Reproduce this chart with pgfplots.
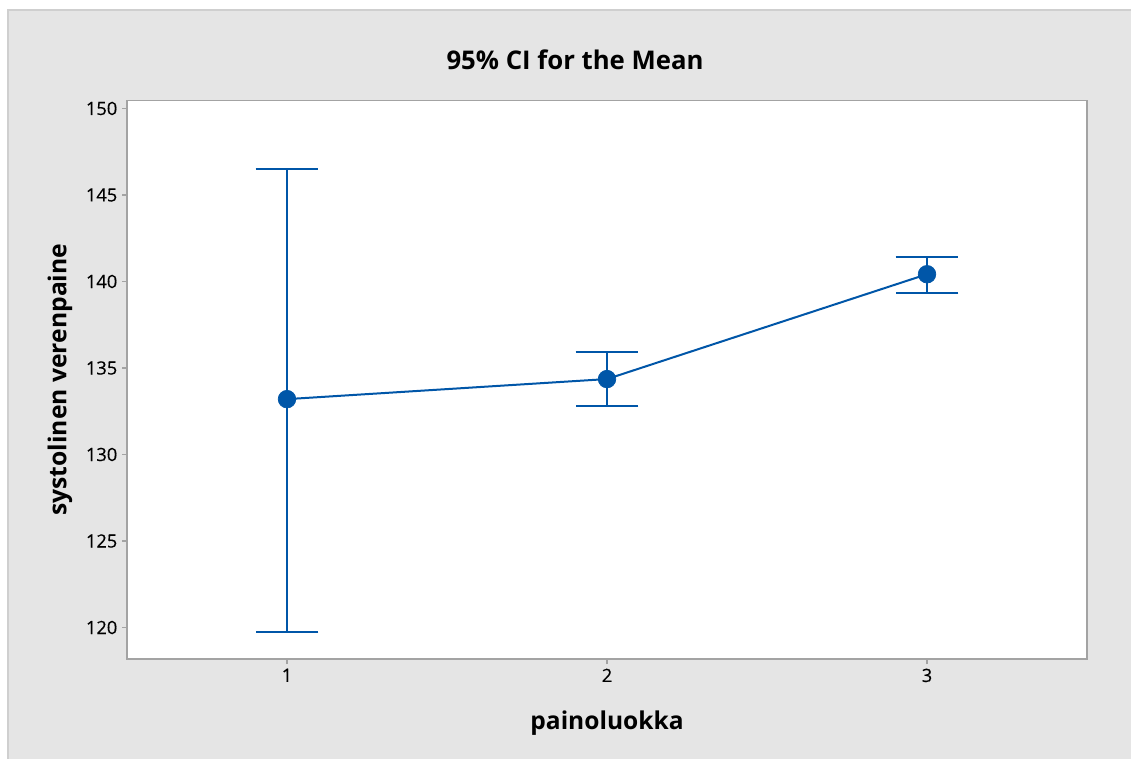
\documentclass[border=0pt]{standalone}
\usepackage{fontspec}
\setmainfont{Open Sans}
\newfontfamily\ticksfont[FakeBold=0.4]{Open Sans}
\usepackage{pgfplots}
\usepackage{pgfplotstable}
\pgfplotsset{compat=1.18}

\definecolor{mtblue}{HTML}{0056A8}
\definecolor{panel}{HTML}{E5E5E5}
\definecolor{frameline}{HTML}{CFCFCF}
\definecolor{axisgray}{HTML}{A3A3A3}

% mean and 95% confidence interval half-widths per weight class
\pgfplotstableread{
x  mean    ep     em
1  133.20  13.30  13.45
2  134.36   1.54   1.54
3  140.42   0.98   1.08
}\cidata

\begin{document}
\begin{tikzpicture}[x=0.75pt,y=0.75pt]
\useasboundingbox (0,0) rectangle (1131,758);
\fill[white] (0,0) rectangle (1131,758);
\filldraw[fill=panel, draw=frameline, line width=1.2pt] (8,-5) rectangle (1136,748);
\begin{axis}[
  at={(95.25pt,74.25pt)}, anchor=south west,
  scale only axis, width=720pt, height=419pt,
  xmin=0.5, xmax=3.5, ymin=118.18, ymax=150.47,
  xtick={1,2,3}, ytick={120,125,...,150},
  xtick pos=bottom, ytick pos=left,
  tick align=outside, major tick length=3.75pt,
  tick style={axisgray, line width=1pt},
  axis line style={axisgray, line width=1.1pt},
  axis background/.style={fill=white},
  /pgf/number format/assume math mode=true,
  tick label style={font=\ticksfont\fontsize{13.7}{15}\selectfont, text=black},
  title={\textbf{95\% CI for the Mean}},
  title style={font=\fontsize{19.3}{21}\selectfont, at={(axis description cs:0.4667,1.059)}, anchor=center},
  xlabel={\textbf{painoluokka}},
  xlabel style={font=\fontsize{18.4}{20}\selectfont, at={(axis description cs:0.5,-0.1145)}, anchor=center},
  ylabel={\textbf{systolinen verenpaine}},
  ylabel style={font=\fontsize{18.5}{20}\selectfont, at={(axis description cs:-0.0698,0.5)}, anchor=center},
]
\addplot[mtblue, line width=1.5pt, mark=*, mark size=6.6pt,
  mark options={fill=mtblue, draw=mtblue, line width=0.5pt},
  error bars/.cd, y dir=both, y explicit,
  error bar style={line width=1.5pt, mtblue},
  error mark options={rotate=90, mark size=23.5pt, line width=1.6pt, mtblue}]
  table[x=x, y=mean, y error plus=ep, y error minus=em] {\cidata};
\end{axis}
\end{tikzpicture}
\end{document}
